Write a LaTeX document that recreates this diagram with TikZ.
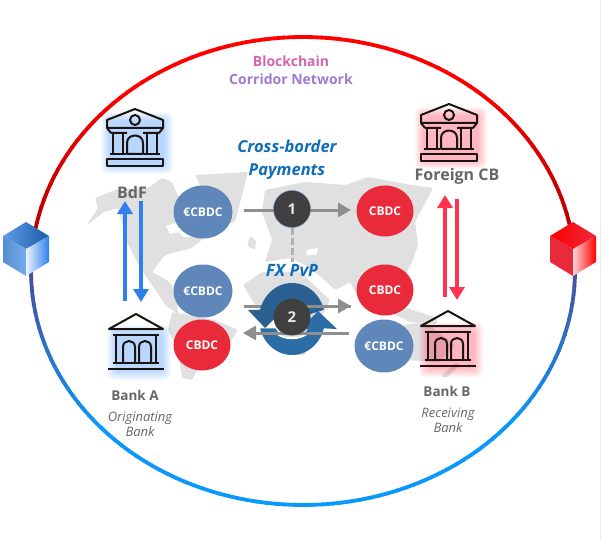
\documentclass[tikz,border=0pt]{standalone}
\usepackage{fontspec}
\setmainfont{Open Sans}
\usetikzlibrary{arrows.meta,shapes.geometric}
\definecolor{bluecoin}{HTML}{5F87BA}
\definecolor{redcoin}{HTML}{E92A3A}
\definecolor{labelgray}{HTML}{666666}
\definecolor{flowgray}{HTML}{8E8E8E}
\definecolor{mapgray}{HTML}{E0E0E0}
\definecolor{titleblue}{HTML}{0F6DB8}
\definecolor{cycletop}{HTML}{2B6093}
\definecolor{cyclelow}{HTML}{2C6DA6}
\definecolor{iconblack}{HTML}{1A1410}
\definecolor{sideblue}{HTML}{4A4F97}
\definecolor{lowblue}{HTML}{0A98FA}
\definecolor{glowblue}{HTML}{3A8CFF}
\definecolor{arrowblue}{HTML}{2F80EC}
\definecolor{glowred}{HTML}{FF3350}
\definecolor{chainpink}{HTML}{D265AE}
\definecolor{chainviolet}{HTML}{A079D2}
\definecolor{cubelight}{HTML}{5E9DE8}
\definecolor{cubedark}{HTML}{1B5BA8}
\tikzset{
coin/.style={ellipse,fill=#1,text=white,font=\bfseries\fontsize{12}{12}\selectfont,inner sep=0pt},
stepnum/.style={circle,fill=black!75,draw=bluecoin,thin,text=white!90!black,minimum size=37pt,inner sep=0pt,font=\bfseries\fontsize{15}{15}\selectfont},
flow/.style={flowgray,line width=3pt},
flowhead/.style={flow,-{Triangle[length=13pt,width=14pt]}},
swaphead/.style={line width=3.3pt,-{Triangle[length=13pt,width=15pt]}},
bankname/.style={text=labelgray,font=\bfseries\fontsize{#1}{#1}\selectfont},
bankrole/.style={text=labelgray,align=center,font=\itshape\fontsize{13}{15}\selectfont},
headline/.style={text=titleblue,align=center,font=\bfseries\itshape\fontsize{#1}{23}\selectfont},
iconline/.style={iconblack,line width=2pt,line join=round},
}
\tikzset{
temple/.pic={
\foreach \g in {9,8,...,0} {
  \fill[#1,opacity=0.045,rounded corners=5pt] (-25-\g,12-\g) rectangle (29+\g,56+\g);
}
\draw[iconline] (-28,11) -- (0,0) -- (28,11) -- (28,19) -- (-28,19) -- cycle;
\draw[iconline] (0,11) circle [radius=5];
\draw[iconline] (-24,24) -- (-8,24) (8,24) -- (24,24) (-28,19) -- (-24,24) (28,19) -- (24,24);
\draw[iconline] (-22,24) -- (-22,45) (-12,24) -- (-12,45) (12,24) -- (12,45) (22,24) -- (22,45);
\draw[iconline] (-25,45) -- (-9,45) (9,45) -- (25,45) (-24,50) -- (24,50);
\draw[iconline] (-8,45) -- (-8,34) .. controls (-8,24) and (8,24) .. (8,34) -- (8,45) -- cycle;
\draw[iconline] (-28,50) rectangle (28,57);
}}
\tikzset{
bankhouse/.pic={
\foreach \g in {9,8,...,0} {
  \fill[#1,opacity=0.045,rounded corners=5pt] (-20-\g,20-\g) rectangle (26+\g,57+\g);
}
\draw[iconline] (-27,15) -- (0,0) -- (27,15) -- cycle;
\draw[iconline] (-23,21) -- (23,21) (-23,49) -- (23,49) (-28,55) -- (28,55);
\draw[iconline] (-20,21) -- (-20,49) (20,21) -- (20,49);
\draw[iconline] (-13,49) -- (-13,33) .. controls (-13,25) and (-1,25) .. (-1,33) -- (-1,49);
\draw[iconline] (3,49) -- (3,33) .. controls (3,25) and (15,25) .. (15,33) -- (15,49);
}}
\tikzset{
bluecube/.pic={
\shade[left color=cubelight,right color=cubedark] (0,-27) -- (23,-13) -- (0,0) -- (-23,-13) -- cycle;
\shade[left color=cubelight!90!black,right color=cubelight!85!white] (-23,-13) -- (0,0) -- (0,27) -- (-23,13) -- cycle;
\shade[left color=arrowblue!10!white,right color=arrowblue] (0,0) -- (23,-13) -- (23,13) -- (0,27) -- cycle;
}}
\tikzset{
redcube/.pic={
\shade[left color=red,right color=redcoin] (0,-27) -- (23,-13) -- (0,0) -- (-23,-13) -- cycle;
\fill[redcoin] (-23,-13) -- (0,0) -- (0,27) -- (-23,13) -- cycle;
\shade[left color=redcoin!20!white,right color=red] (0,0) -- (23,-13) -- (23,13) -- (0,27) -- cycle;
}}

\begin{document}
\begin{tikzpicture}[x=1pt,y=-1pt]
\useasboundingbox (0,0) rectangle (602,540);
\draw[black!8] (600.5,0) -- (600.5,540);

%%% World map
\begin{scope}[mapgray,rounded corners=1.5pt]
%% America
\fill (87,225) -- (98,208) -- (95,198) -- (115,190) -- (148,188) -- (162,178) -- (172,182) -- (180,200) -- (176,225) -- (182,237) -- (205,237) -- (192,248) -- (165,255) -- (152,272) -- (167,280) -- (176,290) -- (178,314) -- (166,306) -- (152,285) -- (140,268) -- (127,242) -- (118,208) -- (104,212) -- cycle;
\fill (195,175) -- (248,172) -- (242,195) -- (235,222) -- (222,225) -- (205,195) -- cycle;
\fill (172,312) -- (215,320) -- (238,330) -- (225,350) -- (200,365) -- (192,380) -- (182,378) -- (178,350) -- (168,330) -- cycle;
%% Europe and Asia
\fill (265,262) -- (272,240) -- (262,212) -- (265,190) -- (305,182) -- (345,185) -- (368,177) -- (412,185) -- (433,188) -- (415,222) -- (418,245) -- (412,262) -- (400,285) -- (392,300) -- (380,308) -- (368,290) -- (357,296) -- (350,282) -- (335,290) -- (320,276) -- (303,264) -- (290,258) -- cycle;
\fill (247,246) -- (250,236) -- (256,240) -- (255,250) -- cycle;
%% Africa
\fill (243,285) -- (262,272) -- (300,272) -- (330,300) -- (315,330) -- (305,355) -- (290,355) -- (275,320) -- (255,305) -- cycle;
%% Oceania
\fill (375,305) -- (407,308) -- (437,318) -- (437,324) -- (410,322) -- cycle;
\fill (403,325) -- (425,322) -- (455,345) -- (440,362) -- (405,360) -- cycle;
\fill (441,376) -- (457,362) -- (459,366) -- (446,378) -- cycle;
\end{scope}
\begin{scope}[white]
\fill (166,226) -- (178,222) -- (181,232) -- (170,234) -- cycle;
\fill (306,250) -- (318,248) -- (316,255) -- (307,255) -- cycle;
\fill (277,214) -- (286,206) -- (284,220) -- cycle;
\end{scope}

%%% Corridor network ring
\foreach \a in {0,2,...,178} {
  \pgfmathsetmacro{\mixred}{100-max(0,abs(\a-90)-40)*0.7}
  \colorlet{arccolor}{red!\mixred!black}
  \draw[arccolor,line width=3.8pt] ({303+272*cos(\a)},{271-234*sin(\a)}) -- ({303+272*cos(\a+2.3)},{271-234*sin(\a+2.3)});
}
\foreach \a in {180,182,...,358} {
  \pgfmathsetmacro{\mixblue}{100-max(0,abs(\a-270)-50)*2.5}
  \colorlet{arccolor}{lowblue!\mixblue!sideblue}
  \draw[arccolor,line width=3.8pt] ({303+272*cos(\a)},{271-234*sin(\a)}) -- ({303+272*cos(\a+2.3)},{271-234*sin(\a+2.3)});
}
\pic at (26,249) {bluecube};
\pic at (573,249) {redcube};

%%% Titles
\node[font=\bfseries\fontsize{14}{14}\selectfont,text=chainpink] (chain) at (291,61) {Blockchain};
\node[font=\bfseries\fontsize{14}{14}\selectfont,text=chainviolet] (corridor) at (291,79) {Corridor Network};
\node[headline=16.5] (crossborder) at (287,160) {Cross-border\\Payments};
\node[headline=17] (fxpvp) at (292,270) {FX PvP};

%%% Central banks and banks
\pic at (135,109) {temple=glowblue};
\pic at (449,104) {temple=glowred};
\pic at (136,314) {bankhouse=glowblue};
\pic at (448,311) {bankhouse=glowred};
\node[bankname=16] (bdf) at (132,192) {BdF};
\node[bankname=16] (foreign) at (457,176) {Foreign CB};
\node[bankname=13.5] (banka) at (135,395) {Bank A};
\node[bankname=13.5] (bankb) at (447,391) {Bank B};
\node[bankrole] (rolea) at (140,424) {Originating\\Bank};
\node[bankrole] (roleb) at (448,420) {Receiving\\Bank};

%%% Coins
\node[coin=bluecoin,minimum width=59pt,minimum height=53pt] (euroT) at (203,212) {€CBDC};
\node[coin=bluecoin,minimum width=59pt,minimum height=53pt] (euroM) at (203,291) {€CBDC};
\node[coin=redcoin,minimum width=57pt,minimum height=51pt] (coinL) at (202,345) {CBDC};
\node[coin=redcoin,minimum width=57pt,minimum height=51pt] (coinT) at (385,211) {CBDC};
\node[coin=redcoin,minimum width=57pt,minimum height=51pt] (coinM) at (385,290) {CBDC};
\node[coin=bluecoin,minimum width=59pt,minimum height=53pt] (euroR) at (384,346) {€CBDC};

%%% Flows
\coordinate (s1) at (244,210);
\coordinate (e1) at (351,210);
\coordinate (s2) at (244,306);
\coordinate (e2) at (351,306);
\coordinate (s3) at (349,333);
\coordinate (e3) at (243,333);
\coordinate (d1) at (292,262);
\coordinate (bu1) at (125,301);
\coordinate (bu2) at (125,201);
\coordinate (bd1) at (141,201);
\coordinate (bd2) at (141,302);
\coordinate (ru1) at (445,297);
\coordinate (ru2) at (445,195);
\coordinate (rd1) at (457,199);
\coordinate (rd2) at (457,300);

\draw[flowhead] (s1) -- (e1);
\node[stepnum] (num1) at (292,209) {1};
\draw[flow,flowgray!70,dash pattern=on 7pt off 3pt] (num1) -- (d1);
\draw[swaphead,arrowblue] (bu1) -- (bu2);
\draw[swaphead,arrowblue] (bd1) -- (bd2);
\draw[swaphead,glowred] (ru1) -- (ru2);
\draw[swaphead,glowred] (rd1) -- (rd2);

%%% Swap ring
\draw[flowhead] (s2) -- (e2);
\fill[cycletop] plot[domain=-15:-165,samples=30] ({292+33*cos(\x)},{319+36*sin(\x)}) -- (248,310) -- (265,328) -- (283,310) -- (274,310) -- plot[domain=-155:-15,samples=30] ({292+19*cos(\x)},{319+19*sin(\x)}) -- cycle;
\fill[cyclelow] plot[domain=165:15,samples=30] ({292+33*cos(\x)},{319+36*sin(\x)}) -- (337,329) -- (318,311) -- (300,329) -- (310,329) -- plot[domain=30:150,samples=30] ({292+19*cos(\x)},{319+19*sin(\x)}) -- cycle;
\draw[white,line width=2pt] (276,333) .. controls (285,340) and (299,340) .. (308,333);
\draw[flow] (300,306) -- (e2);
\draw[flowhead] (s3) -- (e3);
\node[stepnum,draw=none] (num2) at (292,317) {2};
\end{tikzpicture}
\end{document}
